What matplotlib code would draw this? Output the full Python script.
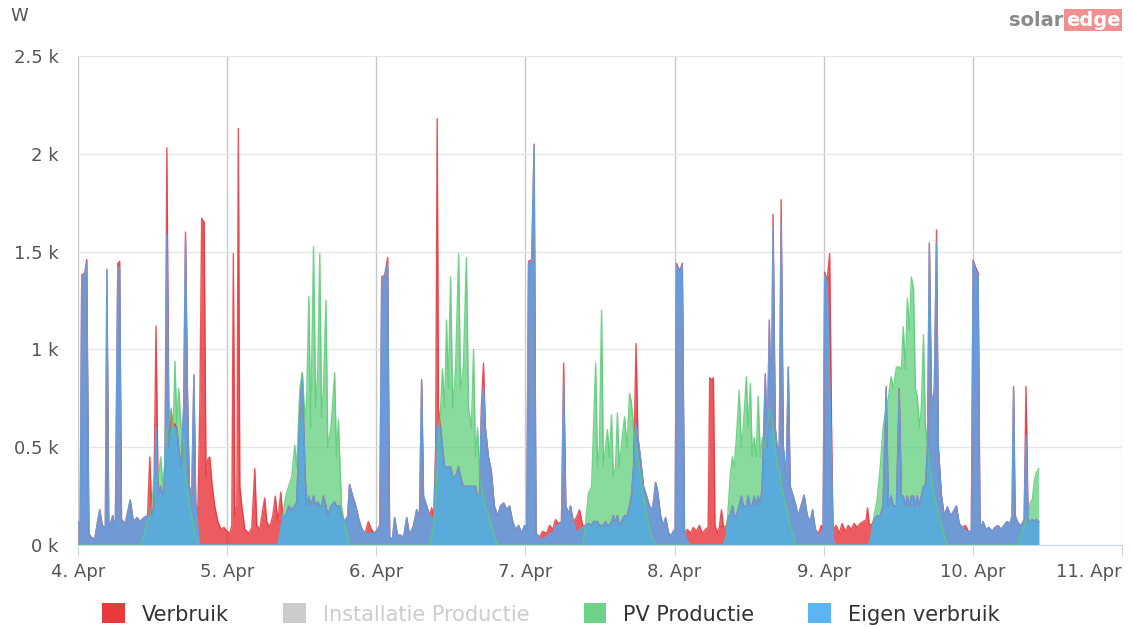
import matplotlib
matplotlib.use("Agg")
import matplotlib.pyplot as plt
from matplotlib.patches import Patch

# ---- data (hours since 4 Apr 00:00, watts) ----
hours = [
    # 4 Apr
    0.0, 0.35, 0.6, 1.1, 1.4, 1.75, 2.1, 2.7, 3.2, 3.5, 3.9, 4.4, 4.65, 4.95, 5.6, 6.0, 6.4, 6.7, 7.0, 7.6,
    8.4, 8.9, 9.5, 10.0, 10.6, 11.2, 11.55, 11.9, 12.2, 12.55, 12.9, 13.3, 13.7, 14.0, 14.3, 14.65, 15.0, 15.3,
    15.6, 15.9, 16.2, 16.6, 17.0, 17.3, 17.6, 17.9, 18.3, 18.65, 18.95, 19.3, 19.6, 19.9, 20.3, 20.6, 20.9,
    21.2, 21.6, 22.0, 22.5, 23.0, 23.5,
    # 5 Apr
    24.0, 24.43, 24.75, 25.0, 25.24, 25.56, 25.8, 26.04, 26.36, 26.85, 27.5, 27.97, 28.45, 28.77, 29.25,
    29.73, 30.05, 30.37, 30.86, 31.34, 31.75, 32.15, 32.63, 32.95, 33.43, 33.9, 34.4, 34.88, 35.2, 35.7,
    36.1, 36.5, 36.8, 37.15, 37.45, 37.9, 38.25, 38.6, 38.9, 39.2, 39.5, 39.9, 40.2, 40.7, 41.3, 41.6, 41.9,
    42.1, 42.4, 42.9, 43.4, 43.7, 44.2, 44.7, 45.2, 45.7, 46.2, 46.7, 47.2, 47.7,
    # 6 Apr
    48.2, 48.55, 48.87, 49.35, 49.83, 50.15, 50.6, 50.95, 51.4, 51.9, 52.4, 52.9, 53.35, 54.0, 54.5, 54.95,
    55.3, 55.6, 56.1, 56.6, 56.9, 57.25, 57.55, 57.8, 58.0, 58.35, 58.65, 59.0, 59.3, 59.6, 59.95, 60.3,
    60.75, 61.25, 61.55, 62.0, 62.5, 62.85, 63.3, 63.65, 63.95, 64.3, 64.6, 64.9, 65.25, 65.55, 66.05, 66.5,
    67.0, 67.5, 68.0, 68.5, 69.0, 69.45, 69.95, 70.4, 70.9, 71.4, 71.85,
    # 7 Apr
    72.2, 72.5, 73.0, 73.4, 73.7, 74.25, 74.75, 75.4, 75.9, 76.4, 76.85, 77.3, 77.8, 78.15, 78.5, 78.95,
    79.25, 79.7, 80.2, 80.7, 81.2, 81.65, 82.15, 82.65, 82.95, 83.3, 83.6, 83.9, 84.25, 84.55, 84.9, 85.2,
    85.5, 85.85, 86.15, 86.5, 86.8, 87.1, 87.45, 87.95, 88.35, 88.75, 89.05, 89.4, 89.8, 90.1, 90.5, 91.0,
    91.5, 91.95, 92.45, 92.95, 93.25, 93.75, 94.2, 94.55, 95.05, 95.5, 95.8,
    # 8 Apr
    96.1, 96.3, 96.8, 97.25, 97.6, 98.05, 98.55, 99.0, 99.5, 100.0, 100.45, 100.95, 101.4, 101.65, 102.0,
    102.25, 102.5, 102.9, 103.2, 103.55, 103.85, 104.35, 104.65, 104.95, 105.3, 105.6, 105.95, 106.4,
    106.75, 107.05, 107.55, 107.85, 108.2, 108.5, 108.8, 109.15, 109.45, 109.8, 110.1, 110.6, 110.9,
    111.25, 111.55, 111.85, 112.2, 112.5, 112.85, 113.15, 113.5, 113.95, 114.3, 114.6, 115.1, 115.4,
    115.9, 116.35, 116.85, 117.35, 117.85, 118.2, 118.65, 119.15, 119.6,
    # 9 Apr
    119.9, 120.15, 120.55, 120.95, 121.3, 121.5, 122.0, 122.5, 122.95, 123.45, 123.95, 124.4, 124.9, 125.4,
    125.85, 126.35, 126.85, 127.05, 127.3, 127.65, 128.1, 128.6, 129.1, 129.55, 130.05, 130.4, 130.85,
    131.2, 131.7, 132.15, 132.5, 132.8, 133.15, 133.45, 133.8, 134.1, 134.45, 134.75, 135.05, 135.4, 135.7,
    136.05, 136.35, 136.7, 137.0, 137.35, 137.8, 138.15, 138.45, 138.95, 139.4, 139.9, 140.4, 140.85,
    141.35, 141.8, 142.3, 142.8, 143.25, 143.75,
    # 10 Apr
    144.05, 144.45, 144.85, 145.15, 145.65, 146.1, 146.6, 147.1, 147.55, 148.05, 148.55, 149.0, 149.5,
    150.0, 150.3, 150.55, 150.8, 151.3, 151.75, 152.25, 152.55, 152.9, 153.25, 153.55, 153.9, 154.2, 154.6,
]

verbruik = [
    # 4 Apr
    120, 100, 1380, 1390, 1460, 60, 40, 30, 130, 180, 100, 90, 1410, 80, 150, 70, 1440, 1450, 130, 110,
    230, 120, 140, 120, 140, 150, 450, 150, 200, 1120, 250, 300, 250, 400, 2030, 500, 690, 600,
    620, 600, 500, 400, 700, 1600, 800, 300, 250, 870, 200, 200, 700, 1670, 1650, 350, 440,
    450, 300, 200, 120, 80, 90,
    # 5 Apr
    70, 60, 100, 1490, 150, 200, 2130, 300, 200, 80, 60, 90, 390, 100, 80,
    180, 240, 120, 90, 150, 250, 120, 270, 150, 150, 200, 180, 200, 220, 700,
    880, 400, 200, 250, 200, 250, 200, 220, 200, 200, 250, 200, 150, 200, 220, 200, 200,
    200, 150, 120, 150, 310, 250, 200, 130, 80, 60, 120, 80, 60,
    # 6 Apr
    80, 100, 1370, 1380, 1470, 40, 30, 140, 50, 50, 40, 140, 50, 100, 180, 150,
    845, 250, 200, 150, 190, 150, 500, 2180, 700, 600, 500, 400, 400, 400, 400, 350,
    350, 400, 350, 300, 300, 300, 300, 300, 300, 250, 250, 700, 930, 600, 450, 380,
    200, 150, 200, 215, 180, 200, 120, 80, 100, 60, 100,
    # 7 Apr
    80, 1450, 1460, 2050, 60, 40, 70, 60, 100, 80, 130, 110, 120, 930, 200, 160,
    200, 120, 140, 180, 100, 100, 110, 100, 120, 120, 120, 100, 100, 100, 120, 100,
    100, 120, 150, 120, 150, 100, 120, 150, 150, 200, 250, 400, 1030, 550, 450, 300,
    250, 200, 180, 320, 280, 150, 100, 140, 60, 50, 70,
    # 8 Apr
    80, 1440, 1400, 1440, 60, 80, 60, 90, 70, 100, 60, 80, 90, 855, 845,
    855, 100, 60, 90, 180, 90, 100, 150, 150, 200, 150, 150, 200,
    250, 200, 200, 250, 200, 200, 250, 200, 250, 200, 300, 875, 500,
    1150, 600, 1690, 600, 500, 500, 1765, 500, 350, 910, 300, 250, 215,
    150, 200, 255, 150, 120, 180, 80, 60, 100,
    # 9 Apr
    80, 1395, 1350, 1490, 500, 80, 100, 60, 110, 70, 100, 80, 110, 90,
    110, 120, 130, 190, 110, 100, 130, 150, 150, 200, 810, 200, 250,
    200, 200, 800, 250, 250, 200, 250, 200, 250, 250, 200, 250, 200, 250,
    300, 300, 500, 1545, 700, 800, 1610, 500, 250, 150, 195, 150, 170,
    200, 110, 90, 100, 70, 70,
    # 10 Apr
    1455, 1420, 1390, 80, 120, 80, 90, 70, 90, 100, 80, 100, 120,
    110, 150, 810, 150, 110, 100, 130, 810, 120, 120, 130, 120, 130, 120,
]

pv_productie = [
    # 4 Apr
    0, 0, 0, 0, 0, 0, 0, 0, 0, 0, 0, 0, 0, 0, 0, 0, 0, 0, 0, 0,
    0, 0, 0, 0, 50, 120, 150, 200, 350, 330, 330, 450, 300, 450, 600, 600, 700, 550,
    940, 620, 800, 600, 550, 350, 300, 200, 150, 100, 50, 0, 0, 0, 0, 0, 0,
    0, 0, 0, 0, 0, 0,
    # 5 Apr
    0, 0, 0, 0, 0, 0, 0, 0, 0, 0, 0, 0, 0, 0, 0,
    0, 0, 0, 0, 0, 0, 0, 80, 150, 250, 300, 350, 510, 400, 800,
    880, 650, 750, 1270, 600, 1525, 700, 900, 1490, 650, 800, 1250, 500, 600, 880, 450, 640,
    470, 200, 100, 50, 0, 0, 0, 0, 0, 0, 0, 0, 0,
    # 6 Apr
    0, 0, 0, 0, 0, 0, 0, 0, 0, 0, 0, 0, 0, 0, 0, 0,
    0, 0, 0, 0, 50, 100, 200, 400, 500, 700, 900, 700, 1150, 800, 1370, 700,
    900, 1490, 800, 900, 1470, 700, 600, 1000, 450, 600, 350, 300, 250, 200, 150, 100,
    50, 0, 0, 0, 0, 0, 0, 0, 0, 0, 0,
    # 7 Apr
    0, 0, 0, 0, 0, 0, 0, 0, 0, 0, 0, 0, 0, 0, 0, 0,
    0, 0, 0, 0, 0, 100, 265, 300, 590, 930, 400, 500, 1200, 400, 500, 590,
    450, 665, 350, 400, 675, 400, 510, 655, 500, 775, 730, 600, 500, 450, 350, 250,
    150, 80, 30, 0, 0, 0, 0, 0, 0, 0, 0,
    # 8 Apr
    0, 0, 0, 0, 0, 0, 0, 0, 0, 0, 0, 0, 0, 0, 0,
    0, 0, 0, 0, 0, 0, 50, 200, 350, 450, 400, 550, 790,
    500, 600, 860, 600, 825, 450, 550, 450, 760, 450, 550, 500, 600,
    700, 650, 600, 500, 400, 400, 300, 250, 200, 150, 100, 50, 0,
    0, 0, 0, 0, 0, 0, 0, 0, 0,
    # 9 Apr
    0, 0, 0, 0, 0, 0, 0, 0, 0, 0, 0, 0, 0, 0,
    0, 0, 0, 0, 0, 50, 150, 230, 400, 600, 700, 750, 860,
    800, 910, 910, 900, 1115, 900, 1260, 1100, 1370, 1310, 800, 760, 600, 700,
    1075, 620, 500, 400, 350, 250, 200, 150, 100, 50, 0, 0, 0,
    0, 0, 0, 0, 0, 0,
    # 10 Apr
    0, 0, 0, 0, 0, 0, 0, 0, 0, 0, 0, 0, 0,
    0, 0, 0, 0, 0, 50, 100, 120, 150, 220, 230, 330, 370, 390,
]

eigen_verbruik = [
    # 4 Apr
    120, 100, 1370, 1380, 1440, 60, 40, 30, 130, 180, 100, 90, 1400, 80, 150, 70, 1410, 1420, 130, 110,
    230, 120, 140, 120, 140, 150, 150, 150, 200, 600, 250, 300, 250, 400, 1590, 500, 600, 600,
    600, 600, 500, 400, 700, 1560, 800, 300, 250, 860, 200, 80, 0, 0, 0, 0, 0,
    0, 0, 0, 0, 0, 0,
    # 5 Apr
    0, 0, 0, 0, 0, 0, 0, 0, 0, 0, 0, 0, 0, 0, 0,
    0, 0, 0, 0, 0, 0, 0, 80, 150, 150, 200, 180, 200, 220, 700,
    850, 400, 200, 250, 200, 250, 200, 220, 200, 200, 250, 200, 150, 200, 220, 200, 200,
    200, 150, 120, 150, 310, 250, 200, 130, 80, 60, 60, 60, 60,
    # 6 Apr
    80, 100, 1360, 1370, 1440, 40, 30, 140, 50, 50, 40, 140, 50, 100, 180, 150,
    830, 250, 200, 150, 130, 150, 400, 620, 600, 600, 500, 400, 400, 400, 400, 350,
    350, 400, 350, 300, 300, 300, 300, 300, 300, 250, 250, 650, 810, 600, 450, 380,
    200, 150, 200, 215, 180, 200, 120, 80, 100, 60, 100,
    # 7 Apr
    80, 1440, 1450, 2040, 60, 40, 30, 40, 60, 60, 100, 100, 120, 835, 200, 160,
    200, 120, 60, 80, 90, 100, 110, 100, 120, 120, 120, 100, 100, 100, 120, 100,
    100, 120, 150, 120, 150, 100, 120, 150, 150, 200, 250, 400, 620, 550, 450, 300,
    250, 200, 180, 320, 280, 150, 100, 140, 60, 50, 70,
    # 8 Apr
    80, 1430, 1390, 1430, 60, 20, 0, 0, 0, 0, 0, 0, 0, 0, 0,
    0, 0, 0, 0, 0, 0, 50, 150, 150, 200, 150, 150, 200,
    250, 200, 200, 250, 200, 200, 250, 200, 250, 200, 300, 860, 500,
    1140, 600, 1625, 600, 500, 500, 1650, 500, 350, 900, 300, 250, 215,
    150, 200, 255, 150, 120, 180, 80, 50, 60,
    # 9 Apr
    80, 1380, 1340, 830, 400, 20, 0, 0, 0, 0, 0, 0, 0, 0,
    0, 0, 0, 0, 0, 50, 130, 150, 150, 200, 800, 200, 250,
    200, 200, 790, 250, 250, 200, 250, 200, 250, 250, 200, 250, 200, 250,
    300, 300, 500, 1540, 700, 800, 1545, 500, 250, 150, 195, 150, 170,
    200, 110, 90, 70, 70, 70,
    # 10 Apr
    1450, 1410, 1370, 80, 120, 80, 90, 70, 90, 100, 80, 100, 120,
    110, 150, 800, 150, 110, 100, 130, 560, 120, 120, 130, 120, 130, 120,
]

day_labels = ["4. Apr", "5. Apr", "6. Apr", "7. Apr", "8. Apr", "9. Apr", "10. Apr", "11. Apr"]
y_ticks = [0, 500, 1000, 1500, 2000, 2500]
y_labels = ["0 k", "0.5 k", "1 k", "1.5 k", "2 k", "2.5 k"]

RED = "#e8373c"
GREEN = "#5ccc78"
BLUE = "#50abf5"

plt.rcParams["font.family"] = ["DejaVu Sans"]
fig = plt.figure(figsize=(11.32, 6.27), dpi=100)
ax = fig.add_axes([78 / 1132, 1 - 545 / 627, (1122 - 78) / 1132, (545 - 56) / 627])

for vals, col, a in [(verbruik, RED, 0.82), (pv_productie, GREEN, 0.72), (eigen_verbruik, BLUE, 0.8)]:
    ax.fill_between(hours, vals, 0, color=col, alpha=a, lw=0, zorder=2)
    ax.plot(hours, vals, color=col, lw=1.0, alpha=0.85, zorder=3)

ax.set_xlim(0, 168)
ax.set_ylim(0, 2500)
ax.set_xticks([24 * i for i in range(8)])
ax.set_xticklabels(day_labels)
ax.set_yticks(y_ticks)
ax.set_yticklabels(y_labels)
ax.grid(axis="y", color="#e6e6e6", lw=1, zorder=0)
ax.grid(axis="x", color="#c8c8c8", lw=1, zorder=0)
for s in ["top", "right", "left"]:
    ax.spines[s].set_visible(False)
ax.spines["bottom"].set_color("#ccd6eb")
ax.tick_params(axis="y", length=0, pad=14, labelsize=13, labelcolor="#555555")
ax.tick_params(axis="x", length=8, color="#ccd6eb", pad=5, labelsize=13, labelcolor="#555555")
for lbl in ax.get_yticklabels():
    lbl.set_horizontalalignment("right")
xl = ax.get_xticklabels()
xl[-1].set_horizontalalignment("right")

fig.text(10 / 1132, 1 - 16 / 627, "W", fontsize=13, color="#555555", va="center")

# logo
fig.text(1063 / 1132, 1 - 20 / 627, "solar", fontsize=14, fontweight="bold", color="#8a8a8a",
         ha="right", va="center")
fig.text(1066 / 1132, 1 - 20 / 627, "edge", fontsize=14, fontweight="bold", color="white",
         ha="left", va="center",
         bbox=dict(boxstyle="square,pad=0.1", facecolor="#f29090", edgecolor="none"))

handles = [Patch(facecolor="#e83a3a", edgecolor="none"),
           Patch(facecolor="#cccccc", edgecolor="none"),
           Patch(facecolor="#6dd487", edgecolor="none"),
           Patch(facecolor="#5bb5f3", edgecolor="none")]
names = ["Verbruik", "Installatie Productie", "PV Productie", "Eigen verbruik"]
leg = fig.legend(handles, names, loc="center", bbox_to_anchor=(551 / 1132, 1 - 614 / 627), ncol=4,
                 frameon=False, fontsize=15, handlelength=1.1, handleheight=1.1,
                 handletextpad=0.8, columnspacing=2.6)
for t, c in zip(leg.get_texts(), ["#333333", "#cccccc", "#333333", "#333333"]):
    t.set_color(c)

fig.savefig("out.png", dpi=100)
